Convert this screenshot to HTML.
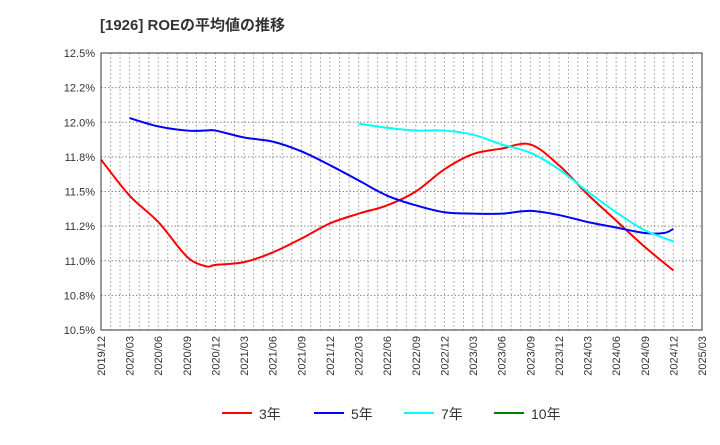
<!DOCTYPE html>
<html><head><meta charset="utf-8"><style>
body{margin:0;background:#fff;font-family:"Liberation Sans","Noto Sans CJK JP",sans-serif}
</style></head><body>
<svg id="c" width="720" height="440" xmlns="http://www.w3.org/2000/svg">
<text x="100" y="30" font-size="15" font-weight="bold" fill="#333" font-family="Liberation Sans, Noto Sans CJK JP, sans-serif">[1926]  ROEの平均値の推移</text>
<g id="grid"></g><g id="series"></g><g id="axes"></g>
</svg>
<script>
const xLabels=["2019/12","2020/03","2020/06","2020/09","2020/12","2021/03","2021/06","2021/09","2021/12","2022/03","2022/06","2022/09","2022/12","2023/03","2023/06","2023/09","2023/12","2024/03","2024/06","2024/09","2024/12","2025/03"];
const yTicks=[10.5,10.75,11.0,11.25,11.5,11.75,12.0,12.25,12.5];
const yTickLabels=["10.5%","10.8%","11.0%","11.2%","11.5%","11.8%","12.0%","12.2%","12.5%"];
const months3=[0,3,6,9,11,12,15,18,21,24,27,30,33,36,39,42,45,48,51,54,57,60];
const vals3=[11.73,11.47,11.28,11.03,10.96,10.97,10.99,11.06,11.16,11.27,11.34,11.40,11.50,11.66,11.77,11.81,11.84,11.69,11.48,11.29,11.10,10.93];
const months5=[3,6,9,11,12,15,18,21,24,27,30,33,36,39,42,45,48,51,54,57,59,60];
const vals5=[12.03,11.97,11.94,11.94,11.94,11.89,11.86,11.79,11.69,11.58,11.47,11.40,11.35,11.34,11.34,11.36,11.33,11.28,11.24,11.20,11.20,11.23];
const months7=[27,30,33,36,39,42,45,48,51,54,57,60];
const vals7=[11.99,11.96,11.94,11.94,11.91,11.84,11.78,11.66,11.50,11.35,11.22,11.14];
const L=101,R=702,T=53,B=330,NM=63;
const X=m=>L+(R-L)*m/NM;
const Y=v=>B-(v-10.5)/2*(B-T);
const NS="http://www.w3.org/2000/svg";
function mk(p,t,a){const e=document.createElementNS(NS,t);for(const k in a)e.setAttribute(k,a[k]);p.appendChild(e);return e;}
const g=document.getElementById('grid'),s=document.getElementById('series'),ax=document.getElementById('axes');
for(let m=1;m<NM;m++){const l=mk(g,'line',{x1:X(m),x2:X(m),y1:T,y2:B,stroke:'#999','stroke-dasharray':'1.5,2.5'});

}
yTicks.forEach((v,i)=>{if(i>0&&i<yTicks.length-1){const l=mk(g,'line',{x1:L,x2:R,y1:Y(v),y2:Y(v),stroke:'#888','stroke-dasharray':'1.5,2'});

}
const t=mk(ax,'text',{x:L-6,y:Y(v)+4,'text-anchor':'end','font-size':11,fill:'#333'});t.textContent=yTickLabels[i];

});
xLabels.forEach((lb,i)=>{const x=X(i*3)+4;const t=mk(ax,'text',{x:x,y:B+6,'text-anchor':'end','font-size':11,fill:'#333',transform:`rotate(-90 ${x} ${B+6})`});t.textContent=lb;

});
const fr=mk(ax,'rect',{x:L,y:T,width:R-L,height:B-T,fill:'none',stroke:'#333','stroke-width':1});


function path(ms,vs){const p=ms.map((m,i)=>[X(m),Y(vs[i])]);let d=`M${p[0][0]},${p[0][1]}`;
for(let i=0;i<p.length-1;i++){const p0=p[i-1]||p[i],p1=p[i],p2=p[i+1],p3=p[i+2]||p2;
d+=` C${p1[0]+(p2[0]-p0[0])/6},${p1[1]+(p2[1]-p0[1])/6} ${p2[0]-(p3[0]-p1[0])/6},${p2[1]-(p3[1]-p1[1])/6} ${p2[0]},${p2[1]}`;}return d;}
[[months3,vals3,'#f00','line-3yr'],[months5,vals5,'#00f','line-5yr'],[months7,vals7,'#0ff','line-7yr']].forEach(([m,v,c,n])=>{
const e=mk(s,'path',{d:path(m,v),fill:'none',stroke:c,'stroke-width':2});

});
const leg=[['3年','#f00',222],['5年','#00f',314],['7年','#0ff',404],['10年','#008000',494]];
leg.forEach(([t,c,x])=>{const gg=mk(ax,'g',{});


mk(gg,'line',{x1:x,x2:x+30,y1:413,y2:413,stroke:c,'stroke-width':2});
const tt=mk(gg,'text',{x:x+37,y:419,'font-size':14,fill:'#333'});tt.textContent=t;});
</script>
</body></html>
